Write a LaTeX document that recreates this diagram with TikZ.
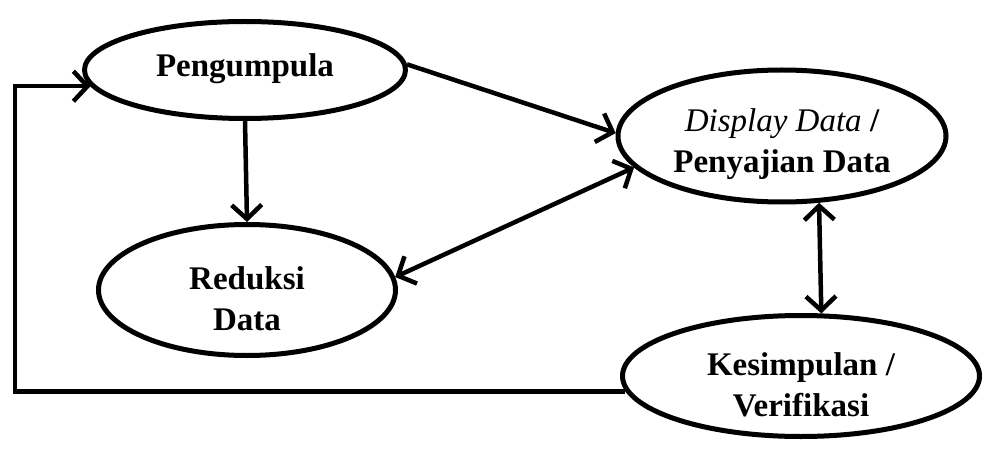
\documentclass[tikz,border=0pt]{standalone}
\usepackage{fontspec}
\setmainfont{Liberation Serif}
\usetikzlibrary{shapes.geometric,arrows.meta}
\newcommand{\turun}{\rule{0pt}{40pt}}
\tikzset{
    tahap/.style={ellipse,draw,line width=5pt,fill=white,inner sep=0pt,
        align=center,font=\fontsize{33}{41}\selectfont\bfseries},
    panah/.style={line width=4.5pt,-{Straight Barb[length=14pt,width=30pt]}},
    duapanah/.style={line width=4.5pt,{Straight Barb[length=14pt,width=30pt]}-{Straight Barb[length=14pt,width=30pt]}}
}
\begin{document}
\begin{tikzpicture}[x=1pt,y=-1pt]
        \useasboundingbox (0,0) rectangle (987,449);
        %% tahap
        \node[tahap,minimum width=321,minimum height=97] (kumpul) at (245,70) {\raisebox{9pt}{Pengumpula}};
        \node[tahap,minimum width=328,minimum height=132] (sajian) at (782,136) {\turun{\mdseries\itshape Display Data} /\\Penyajian Data};
        \node[tahap,minimum width=297,minimum height=131] (reduksi) at (247,290) {\turun Reduksi\\Data};
        \node[tahap,minimum width=357,minimum height=121] (simpul) at (801,376) {\turun Kesimpulan /\\Verifikasi};
        \coordinate (balik) at (15,0);
        %% alur
        \draw[panah] (kumpul.2) -- (sajian.179);
        \draw[panah] (kumpul.south) -- (reduksi.north);
        \draw[duapanah] (reduksi.5) -- (sajian.192);
        \draw[duapanah] (sajian.-61) -- (simpul.72);
        \draw[panah,line join=miter] (simpul.185) -- (simpul.185 -| balik) |- (kumpul.186);
    \end{tikzpicture}
\end{document}
